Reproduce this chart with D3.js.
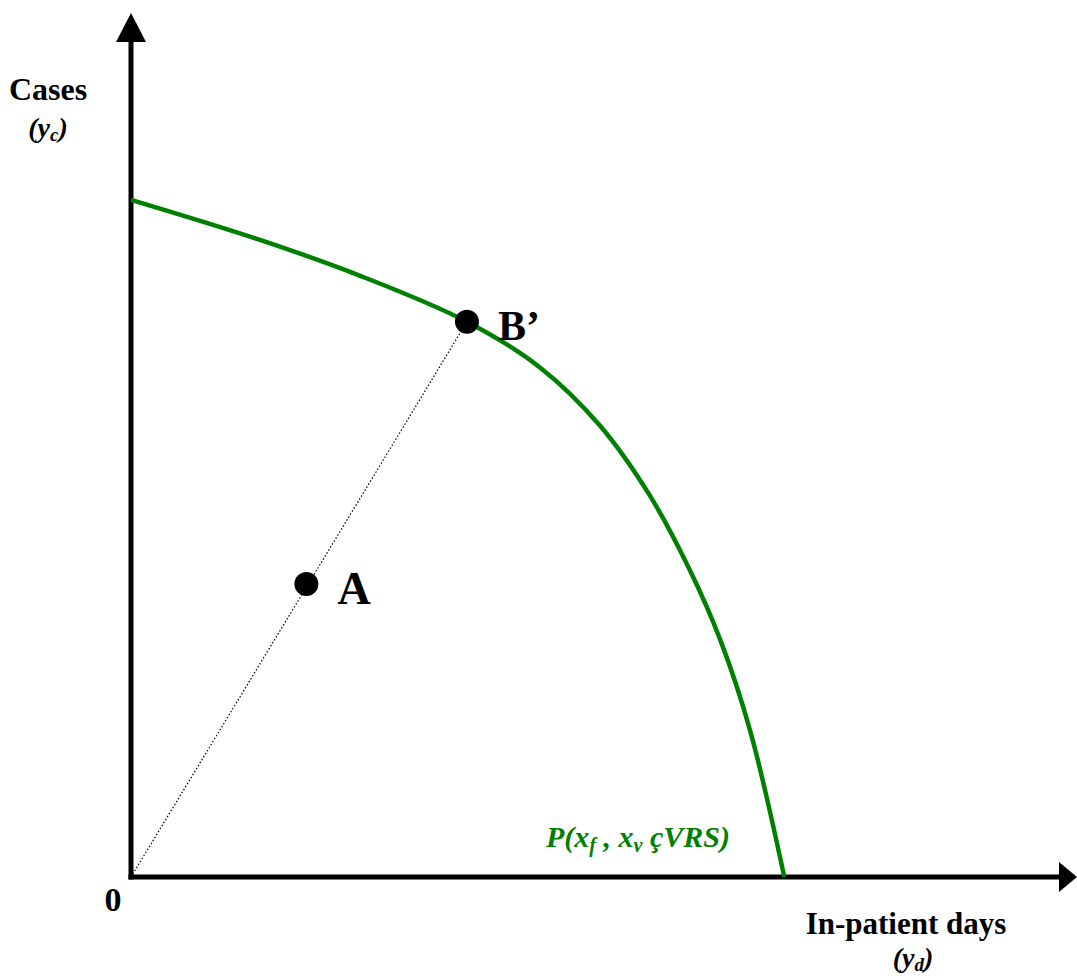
<!DOCTYPE html>
<html>
<head>
<meta charset="utf-8">
<script src="https://cdn.jsdelivr.net/npm/d3@7"></script>
<style>
  body { margin: 0; background: #fff; }
  text { font-family: "Liberation Serif", "Times New Roman", serif; }
</style>
</head>
<body>
<svg width="1077" height="978"></svg>
<script>
  // frontier P(xf, xv | VRS), in-patient days vs cases (0-100 units)
  const frontierDays  = [0, 13.9, 24.7, 36.2, 44.1, 50.5, 55.9, 60.2, 63.5, 66.7, 70.4];
  const frontierCases = [81.1, 76.3, 72.0, 66.5, 61.0, 54.1, 45.7, 36.8, 28.4, 17.6, 0];
  const pointNames = ['A', 'B\u2019'];
  const pointDays  = [18.9, 36.2];
  const pointCases = [35.1, 66.5];

  const svg = d3.select('svg');
  const green = '#008000';

  const x = d3.scaleLinear().domain([0, 100]).range([131, 1059]);
  const y = d3.scaleLinear().domain([0, 100]).range([877, 42]);

  // axes
  svg.append('line')
    .attr('x1', x(0)).attr('y1', y(0) + 2.5)
    .attr('x2', x(0)).attr('y2', y(100))
    .attr('stroke', '#000').attr('stroke-width', 5);
  svg.append('line')
    .attr('x1', x(0) - 2.5).attr('y1', y(0))
    .attr('x2', x(100)).attr('y2', y(0))
    .attr('stroke', '#000').attr('stroke-width', 5);
  svg.append('path')
    .attr('d', `M${x(0)},13 L${x(0) - 15},${y(100)} L${x(0) + 15},${y(100)} Z`)
    .attr('fill', '#000');
  svg.append('path')
    .attr('d', `M1077,${y(0)} L${x(100)},${y(0) - 15} L${x(100)},${y(0) + 15} Z`)
    .attr('fill', '#000');

  // ray from origin through A to B'
  svg.append('line')
    .attr('x1', x(0)).attr('y1', y(0))
    .attr('x2', x(pointDays[1])).attr('y2', y(pointCases[1]))
    .attr('stroke', '#000').attr('stroke-width', 1.2)
    .attr('stroke-dasharray', '1.5,2');

  // frontier
  const line = d3.line()
    .x(d => x(d[0]))
    .y(d => y(d[1]))
    .curve(d3.curveCatmullRom.alpha(0.5));
  svg.append('path')
    .datum(d3.zip(frontierDays, frontierCases))
    .attr('d', line)
    .attr('fill', 'none')
    .attr('stroke', green)
    .attr('stroke-width', 4.5);

  // points
  const pts = d3.zip(pointNames, pointDays, pointCases);
  svg.selectAll('circle.pt')
    .data(pts)
    .enter().append('circle')
      .attr('class', 'pt')
      .attr('cx', d => x(d[1]))
      .attr('cy', d => y(d[2]))
      .attr('r', 12)
      .attr('fill', '#000');
  svg.selectAll('text.pt')
    .data(pts)
    .enter().append('text')
      .attr('class', 'pt')
      .attr('x', d => x(d[1]) + 31)
      .attr('y', (d, i) => y(d[2]) + (i === 0 ? 20 : 18))
      .attr('font-size', (d, i) => i === 0 ? 46 : 42)
      .attr('font-weight', 'bold')
      .text(d => d[0]);

  // labels
  svg.append('text')
    .attr('x', 48).attr('y', 100)
    .attr('text-anchor', 'middle').attr('font-size', 32).attr('font-weight', 'bold')
    .text('Cases');
  const yl2 = svg.append('text')
    .attr('x', 48).attr('y', 137)
    .attr('text-anchor', 'middle').attr('font-size', 28).attr('font-weight', 'bold').attr('font-style', 'italic');
  yl2.append('tspan').text('(y');
  yl2.append('tspan').attr('font-size', 19).attr('dy', 4).text('c');
  yl2.append('tspan').attr('dy', -4).text(')');

  svg.append('text')
    .attr('x', 113).attr('y', 911)
    .attr('text-anchor', 'middle').attr('font-size', 34).attr('font-weight', 'bold')
    .text('0');

  svg.append('text')
    .attr('x', 906).attr('y', 934)
    .attr('text-anchor', 'middle').attr('font-size', 31).attr('font-weight', 'bold')
    .text('In-patient days');
  const xl2 = svg.append('text')
    .attr('x', 913).attr('y', 967)
    .attr('text-anchor', 'middle').attr('font-size', 28).attr('font-weight', 'bold').attr('font-style', 'italic');
  xl2.append('tspan').text('(y');
  xl2.append('tspan').attr('font-size', 19).attr('dy', 4).text('d');
  xl2.append('tspan').attr('dy', -4).text(')');

  const pl = svg.append('text')
    .attr('x', 546).attr('y', 847)
    .attr('font-size', 30).attr('font-weight', 'bold').attr('font-style', 'italic')
    .attr('fill', green);
  pl.append('tspan').text('P(x');
  pl.append('tspan').attr('font-size', 20).attr('dy', 5).text('f');
  pl.append('tspan').attr('dy', -5).text(' , x');
  pl.append('tspan').attr('font-size', 20).attr('dy', 5).text('v');
  pl.append('tspan').attr('dy', -5).text(' \u00e7VRS)');
</script>
</body>
</html>
